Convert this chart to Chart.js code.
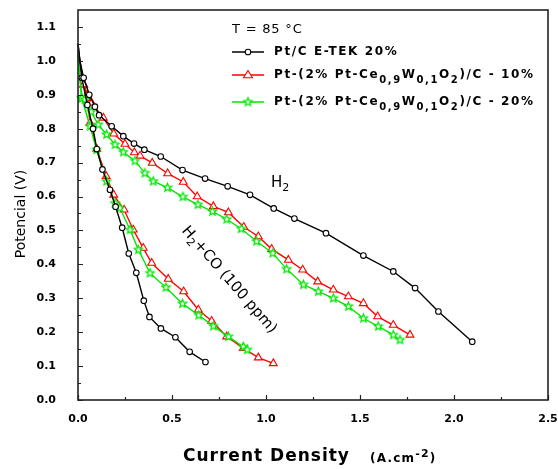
<!DOCTYPE html>
<html>
<head>
<meta charset="utf-8">
<script src="https://cdn.jsdelivr.net/npm/chart.js@4.4.1/dist/chart.umd.min.js"></script>
<style>
html,body{margin:0;padding:0;background:#fff;}
#wrap{width:558px;height:469px;position:relative;}
</style>
</head>
<body>
<div id="wrap"><canvas id="c" width="558" height="469"></canvas></div>
<script>
// ---- data ----
const xTickValues = [0, 0.5, 1.0, 1.5, 2.0, 2.5];
const yTickValues = [0, 0.1, 0.2, 0.3, 0.4, 0.5, 0.6, 0.7, 0.8, 0.9, 1.0, 1.1];

const etekH2X = [0, 0.01, 0.03, 0.06, 0.09, 0.112, 0.179, 0.241, 0.298, 0.353, 0.440, 0.556, 0.676, 0.796, 0.915, 1.041, 1.151, 1.319, 1.518, 1.677, 1.793, 1.917, 2.097];
const etekH2Y = [1.05, 1.0, 0.95, 0.90, 0.865, 0.84, 0.807, 0.778, 0.756, 0.738, 0.718, 0.678, 0.653, 0.630, 0.605, 0.565, 0.535, 0.492, 0.426, 0.379, 0.330, 0.261, 0.172];

const etekCOX = [0, 0.02, 0.05, 0.08, 0.10, 0.13, 0.17, 0.20, 0.235, 0.27, 0.31, 0.35, 0.38, 0.441, 0.518, 0.594, 0.678];
const etekCOY = [1.05, 0.95, 0.87, 0.80, 0.74, 0.68, 0.62, 0.57, 0.508, 0.432, 0.375, 0.293, 0.245, 0.211, 0.185, 0.142, 0.112];

const ce10H2X = [0, 0.01, 0.03, 0.05, 0.073, 0.135, 0.19, 0.25, 0.30, 0.33, 0.395, 0.477, 0.56, 0.634, 0.72, 0.80, 0.882, 0.959, 1.03, 1.119, 1.195, 1.275, 1.358, 1.438, 1.518, 1.594, 1.677, 1.766];
const ce10H2Y = [1.03, 1.0, 0.93, 0.90, 0.876, 0.832, 0.785, 0.755, 0.73, 0.72, 0.699, 0.668, 0.643, 0.600, 0.571, 0.553, 0.51, 0.482, 0.445, 0.413, 0.384, 0.349, 0.325, 0.305, 0.285, 0.246, 0.221, 0.192];

const ce10COX = [0, 0.01, 0.03, 0.05, 0.064, 0.10, 0.15, 0.19, 0.245, 0.294, 0.347, 0.392, 0.48, 0.562, 0.64, 0.711, 0.791, 0.879, 0.959, 1.039];
const ce10COY = [1.03, 1.0, 0.93, 0.89, 0.817, 0.74, 0.66, 0.605, 0.561, 0.502, 0.448, 0.404, 0.357, 0.32, 0.266, 0.233, 0.187, 0.153, 0.125, 0.108];

const ce20H2X = [0, 0.01, 0.02, 0.037, 0.07, 0.108, 0.152, 0.197, 0.241, 0.303, 0.356, 0.40, 0.476, 0.558, 0.638, 0.715, 0.791, 0.868, 0.95, 1.036, 1.11, 1.199, 1.278, 1.358, 1.438, 1.518, 1.597, 1.677, 1.713];
const ce20H2Y = [1.02, 0.95, 0.89, 0.886, 0.85, 0.812, 0.783, 0.753, 0.731, 0.705, 0.669, 0.645, 0.626, 0.599, 0.576, 0.556, 0.533, 0.505, 0.468, 0.433, 0.386, 0.34, 0.32, 0.30, 0.276, 0.241, 0.217, 0.192, 0.177];

const ce20COX = [0, 0.01, 0.02, 0.064, 0.099, 0.152, 0.197, 0.223, 0.277, 0.321, 0.383, 0.468, 0.556, 0.642, 0.72, 0.80, 0.879, 0.90];
const ce20COY = [1.02, 0.95, 0.89, 0.807, 0.738, 0.645, 0.58, 0.566, 0.502, 0.443, 0.374, 0.332, 0.284, 0.25, 0.218, 0.187, 0.157, 0.148];

// ---- styling ----
const BLACK = '#000000', RED = '#ff0000', GREEN = '#00e600';

function makeStar(color, r){
  const s = Math.ceil(r*2+4);
  const cv = document.createElement('canvas');
  cv.width = s; cv.height = s;
  const c = cv.getContext('2d');
  c.strokeStyle = color; c.lineWidth = 1.3; c.fillStyle = '#fff';
  c.beginPath();
  for (let i=0;i<10;i++){
    const a = -Math.PI/2 + i*Math.PI/5;
    const rr = i%2===0 ? r : r*0.45;
    const x = s/2 + rr*Math.cos(a), y = s/2 + rr*Math.sin(a);
    if(i===0) c.moveTo(x,y); else c.lineTo(x,y);
  }
  c.closePath(); c.fill(); c.stroke();
  return cv;
}
const starImg = makeStar(GREEN, 4.3);

function pts(xs, ys){ return xs.map((x,i)=>({x:x, y:ys[i]})); }

function ds(xs, ys, color, style, radius, order){
  return {
    data: pts(xs, ys),
    borderColor: color,
    backgroundColor: '#fff',
    borderWidth: 1.4,
    pointStyle: style,
    pointRadius: c => (c.raw && c.raw.x < 0.015) ? 0 : radius,
    pointBorderWidth: 1.1,
    pointBorderColor: color,
    pointBackgroundColor: '#fff',
    tension: 0,
    clip: false,
    order: order
  };
}

const datasets = [
  ds(etekH2X, etekH2Y, BLACK, 'circle', 2.8, 0),
  ds(etekCOX, etekCOY, BLACK, 'circle', 2.8, 0),
  ds(ce10H2X, ce10H2Y, RED, 'triangle', 4.5, 2),
  ds(ce10COX, ce10COY, RED, 'triangle', 4.5, 2),
  ds(ce20H2X, ce20H2Y, GREEN, starImg, 4.3, 1),
  ds(ce20COX, ce20COY, GREEN, starImg, 4.3, 1)
];

const TICK_FONT = {family: 'DejaVu Sans', size: 11, weight: 'bold'};

function drawMarker(ctx, style, x, y, color, r){
  ctx.save();
  ctx.strokeStyle = color; ctx.fillStyle = '#fff'; ctx.lineWidth = 1.1;
  if (style === 'circle'){
    ctx.beginPath(); ctx.arc(x, y, r, 0, Math.PI*2); ctx.fill(); ctx.stroke();
  } else if (style === 'triangle'){
    ctx.beginPath();
    ctx.moveTo(x, y - r);
    ctx.lineTo(x + r*0.866*1.15, y + r*0.6);
    ctx.lineTo(x - r*0.866*1.15, y + r*0.6);
    ctx.closePath(); ctx.fill(); ctx.stroke();
  } else {
    ctx.drawImage(style, x - style.width/2, y - style.height/2);
  }
  ctx.restore();
}

// draw text pieces with subscripts / superscripts
function drawRich(ctx, parts, x, y, font, subFont, spacing){
  ctx.save();
  ctx.letterSpacing = spacing + 'px';
  ctx.textBaseline = 'middle';
  ctx.textAlign = 'left';
  let cx = x;
  parts.forEach(p => {
    ctx.font = (p.sub || p.sup) ? subFont : font;
    const dy = p.sub ? 5 : (p.sup ? -5 : 0);
    ctx.fillText(p.t, cx, y + dy);
    cx += ctx.measureText(p.t).width;
  });
  ctx.restore();
  return cx;
}

const decorPlugin = {
  id: 'decor',
  afterDraw(chart){
    const ctx = chart.ctx;
    const a = chart.chartArea;
    const xs = chart.scales.x, ys = chart.scales.y;
    ctx.save();
    // frame
    ctx.strokeStyle = '#222';
    ctx.lineWidth = 1.6;
    ctx.strokeRect(a.left, a.top, a.right - a.left, a.bottom - a.top);
    // inward ticks
    ctx.lineWidth = 1.2;
    ctx.beginPath();
    for (let v = 0; v <= 2.5001; v += 0.25){
      const px = Math.round(xs.getPixelForValue(v)) + 0.5;
      const major = Math.abs(v*2 - Math.round(v*2)) < 1e-6;
      ctx.moveTo(px, a.bottom); ctx.lineTo(px, a.bottom - (major ? 5 : 3));
    }
    for (let v = 0; v <= 1.1001; v += 0.05){
      const py = Math.round(ys.getPixelForValue(v)) + 0.5;
      const major = Math.abs(v*10 - Math.round(v*10)) < 1e-6;
      ctx.moveTo(a.left, py); ctx.lineTo(a.left + (major ? 5 : 3), py);
    }
    ctx.stroke();

    ctx.fillStyle = '#000';
    // y title
    ctx.save();
    ctx.translate(21, 214);
    ctx.rotate(-Math.PI/2);
    ctx.font = '14px "DejaVu Sans"';
    ctx.textAlign = 'center'; ctx.textBaseline = 'middle';
    ctx.fillText('Potencial (V)', 0, 0);
    ctx.restore();

    // x title
    ctx.save();
    ctx.textBaseline = 'middle'; ctx.textAlign = 'left';
    ctx.font = 'bold 17px "DejaVu Sans"';
    ctx.letterSpacing = '1px';
    ctx.fillText('Current Density', 183, 457);
    ctx.restore();
    drawRich(ctx, [{t:'(A.cm'},{t:'-2', sup:true},{t:')'}], 370, 459,
      'bold 12px "DejaVu Sans"', 'bold 11px "DejaVu Sans"', 1.2);

    // legend
    ctx.save();
    ctx.font = '13px "DejaVu Sans"';
    ctx.textBaseline = 'middle';
    ctx.letterSpacing = '0.8px';
    ctx.fillText('T = 85 \u00B0C', 232, 30);
    ctx.restore();

    const lf = 'bold 12px "DejaVu Sans"', lsf = 'bold 10px "DejaVu Sans"';
    const entries = [
      {y: 52, color: BLACK, style: 'circle', r: 2.8, parts: [{t:'Pt/C E-TEK 20%'}]},
      {y: 75, color: RED, style: 'triangle', r: 4.5, parts: [{t:'Pt-(2% Pt-Ce'},{t:'0,9', sub:true},{t:'W'},{t:'0,1', sub:true},{t:'O'},{t:'2', sub:true},{t:')/C - 10%'}]},
      {y: 102, color: GREEN, style: starImg, r: 4.3, parts: [{t:'Pt-(2% Pt-Ce'},{t:'0,9', sub:true},{t:'W'},{t:'0,1', sub:true},{t:'O'},{t:'2', sub:true},{t:')/C - 20%'}]}
    ];
    entries.forEach(e => {
      ctx.save();
      ctx.strokeStyle = e.color; ctx.lineWidth = 1.5;
      ctx.beginPath(); ctx.moveTo(232, e.y); ctx.lineTo(264, e.y); ctx.stroke();
      ctx.restore();
      drawMarker(ctx, e.style, 248, e.y, e.color, e.r);
      ctx.fillStyle = '#000';
      drawRich(ctx, e.parts, 274, e.y, lf, lsf, 1.6);
    });

    // annotations
    ctx.fillStyle = '#000';
    drawRich(ctx, [{t:'H'},{t:'2', sub:true}], 271, 183, '15px "DejaVu Sans"', '11px "DejaVu Sans"', 0);
    ctx.save();
    ctx.translate(229, 280);
    ctx.rotate(49 * Math.PI/180);
    const parts = [{t:'H'},{t:'2', sub:true},{t:'+CO (100 ppm)'}];
    let w = 0;
    parts.forEach(p => { ctx.font = p.sub ? '11px "DejaVu Sans"' : '15px "DejaVu Sans"'; w += ctx.measureText(p.t).width; });
    drawRich(ctx, parts, -w/2, 0, '15px "DejaVu Sans"', '11px "DejaVu Sans"', 0);
    ctx.restore();

    ctx.restore();
  }
};

new Chart(document.getElementById('c'), {
  type: 'line',
  data: { datasets: datasets },
  options: {
    responsive: false,
    animation: false,
    events: [],
    layout: { padding: { left: 0, right: 10, top: 10, bottom: 0 } },
    plugins: { legend: { display: false }, tooltip: { enabled: false } },
    scales: {
      x: {
        type: 'linear', min: 0, max: 2.5,
        afterBuildTicks: s => { s.ticks = xTickValues.map(v => ({value: v})); },
        afterFit: s => { s.height = 69; s.paddingLeft = 0; s.paddingRight = 0; },
        grid: { display: false, drawTicks: false },
        border: { display: false },
        ticks: { font: TICK_FONT, color: '#000', padding: 13, maxRotation: 0,
                 callback: v => Number(v).toFixed(1) }
      },
      y: {
        type: 'linear', min: 0, max: 1.15,
        afterBuildTicks: s => { s.ticks = yTickValues.map(v => ({value: v})); },
        afterFit: s => { s.width = 78; s.paddingTop = 0; s.paddingBottom = 0; },
        grid: { display: false, drawTicks: false },
        border: { display: false },
        ticks: { font: TICK_FONT, color: '#000', padding: 22,
                 callback: v => Number(v).toFixed(1) }
      }
    }
  },
  plugins: [decorPlugin]
});
</script>
</body>
</html>
